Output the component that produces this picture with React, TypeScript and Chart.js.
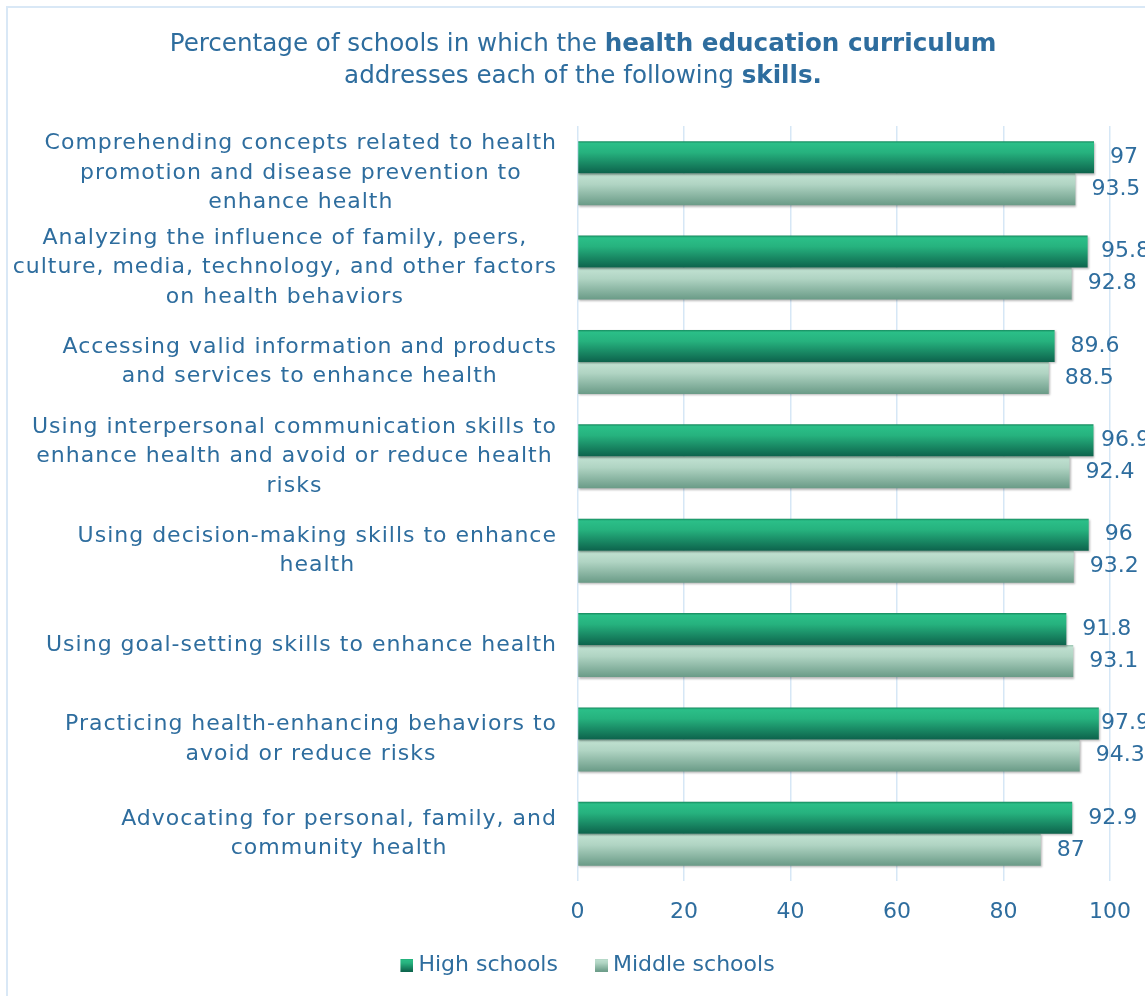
import React, { useEffect, useRef } from 'react';
import { Chart, registerables } from 'chart.js';

Chart.register(...registerables);

const categories: string[][] = [
  ['Comprehending concepts related to health', 'promotion and disease prevention to', 'enhance health'],
  ['Analyzing the influence of family, peers,', 'culture, media, technology, and other factors', 'on health behaviors'],
  ['Accessing valid information and products', 'and services to enhance health'],
  ['Using interpersonal communication skills to', 'enhance health and avoid or reduce health', 'risks'],
  ['Using decision-making skills to enhance', 'health'],
  ['Using goal-setting skills to enhance health'],
  ['Practicing health-enhancing behaviors to', 'avoid or reduce risks'],
  ['Advocating for personal, family, and', 'community health'],
];

const highSchools = [97, 95.8, 89.6, 96.9, 96, 91.8, 97.9, 92.9];
const middleSchools = [93.5, 92.8, 88.5, 92.4, 93.2, 93.1, 94.3, 87];
const seriesNames = ['High schools', 'Middle schools'];
const xTicks = [0, 20, 40, 60, 80, 100];

const titleLines: { text: string; bold: boolean }[][] = [
  [
    { text: 'Percentage of schools in which the ', bold: false },
    { text: 'health education curriculum', bold: true },
  ],
  [
    { text: 'addresses each of the following ', bold: false },
    { text: 'skills.', bold: true },
  ],
];

const FONT = "'DejaVu Sans', sans-serif";
const TEXT = '#2e6d9e';
const GRID = '#d6e7f6';
const CAT_PCT = 0.678;
const PAD_LEFT = 56;

const hsStops: [number, string][] = [
  [0, '#168a5e'],
  [0.07, '#2bbf88'],
  [0.35, '#26b27e'],
  [1, '#0d634c'],
];
const msStops: [number, string][] = [
  [0, '#9cc4b2'],
  [0.07, '#bfe0d0'],
  [0.35, '#b0d4c3'],
  [1, '#6a9b87'],
];

function grad(ctx: CanvasRenderingContext2D, top: number, bottom: number, stops: [number, string][]) {
  const g = ctx.createLinearGradient(0, top, 0, bottom);
  stops.forEach(([o, c]) => g.addColorStop(o, c));
  return g;
}

function barColor(stops: [number, string][], flat: string) {
  return (c: any) => {
    const chart = c.chart;
    const ys = chart.scales && chart.scales.y;
    if (c.type !== 'data' || !ys || typeof c.dataIndex !== 'number') return flat;
    const center = ys.getPixelForValue(c.dataIndex);
    const band = ys.height / categories.length;
    const half = (band * CAT_PCT) / 2;
    if (!isFinite(center) || !isFinite(half) || half <= 0) return flat;
    const top = c.datasetIndex === 0 ? center - half : center;
    return grad(chart.ctx, top, top + half, stops);
  };
}

// legend marker: 28px wide image, coloured 13x13 square on its right side
function legendBox(stops: [number, string][]) {
  const cv = document.createElement('canvas');
  cv.width = 28;
  cv.height = 13;
  const x = cv.getContext('2d')!;
  x.fillStyle = grad(x, 0, 13, stops);
  x.fillRect(15, 0, 13, 13);
  return cv;
}

const textPlugin = {
  id: 'customText',
  beforeDatasetsDraw(chart: any) {
    const ctx = chart.ctx;
    ctx.save();
    ctx.shadowColor = 'rgba(0,0,0,0.28)';
    ctx.shadowBlur = 2;
    ctx.shadowOffsetX = 1;
    ctx.shadowOffsetY = 1.5;
  },
  afterDatasetsDraw(chart: any) {
    chart.ctx.restore();
  },
  afterDraw(chart: any) {
    const ctx: any = chart.ctx;
    const area = chart.chartArea;
    ctx.save();
    ctx.fillStyle = TEXT;
    ctx.textBaseline = 'middle';

    // title
    const titleY = [45, 77];
    const titleCenter = 583;
    titleLines.forEach((line, li) => {
      let total = 0;
      const widths = line.map((seg) => {
        ctx.font = `${seg.bold ? 'bold ' : ''}24.6px ${FONT}`;
        const w = ctx.measureText(seg.text).width;
        total += w;
        return w;
      });
      let x = titleCenter - total / 2;
      ctx.textAlign = 'left';
      line.forEach((seg, i) => {
        ctx.font = `${seg.bold ? 'bold ' : ''}24.6px ${FONT}`;
        ctx.fillText(seg.text, x, titleY[li]);
        x += widths[i];
      });
    });

    // category labels (block right-aligned, lines centred within block)
    const ys = chart.scales.y;
    ctx.font = `22px ${FONT}`;
    ctx.letterSpacing = '1px';
    ctx.textAlign = 'left';
    const right = area.left - 21.5;
    const lh = 29.5;
    categories.forEach((lines, i) => {
      const cy = ys.getPixelForValue(i);
      const ws = lines.map((l) => ctx.measureText(l).width - 1);
      const widest = Math.max(...ws);
      const cx = right - widest / 2;
      lines.forEach((l, j) => {
        ctx.fillText(l, cx - ws[j] / 2, cy + (j - (lines.length - 1) / 2) * lh);
      });
    });
    ctx.letterSpacing = '0px';

    // value labels
    ctx.textAlign = 'left';
    chart.data.datasets.forEach((ds: any, di: number) => {
      const meta = chart.getDatasetMeta(di);
      meta.data.forEach((el: any, i: number) => {
        const t = String(ds.data[i]);
        const w = ctx.measureText(t).width;
        const x = Math.min(el.x + 16, 1150 - w);
        ctx.fillText(t, x, el.y);
      });
    });
    ctx.restore();
  },
};

export default function App() {
  const ref = useRef<HTMLCanvasElement>(null);

  useEffect(() => {
    if (!ref.current) return;
    const boxes = [legendBox(hsStops), legendBox(msStops)];
    const chart = new Chart(ref.current, {
      type: 'bar',
      data: {
        labels: categories.map((c) => c.join(' ')),
        datasets: [
          {
            label: seriesNames[0],
            data: highSchools,
            backgroundColor: barColor(hsStops, '#1c9a6c'),
            borderWidth: 0,
            categoryPercentage: CAT_PCT,
            barPercentage: 1,
          },
          {
            label: seriesNames[1],
            data: middleSchools,
            backgroundColor: barColor(msStops, '#94c2ad'),
            borderWidth: 0,
            categoryPercentage: CAT_PCT,
            barPercentage: 1,
          },
        ],
      },
      options: {
        indexAxis: 'y',
        responsive: false,
        animation: false,
        devicePixelRatio: 1,
        layout: { padding: { top: 126, left: PAD_LEFT, right: 35, bottom: 0 } },
        scales: {
          x: {
            min: 0,
            max: 100,
            afterBuildTicks: (s: any) => {
              s.ticks = xTicks.map((v) => ({ value: v }));
            },
            afterFit: (s: any) => {
              s.height = 45;
              s.paddingLeft = 0;
              s.paddingRight = 0;
            },
            grid: { color: GRID, lineWidth: 1.5, drawTicks: false },
            border: { display: false },
            ticks: { color: TEXT, font: { family: FONT, size: 22 }, padding: 18 },
          },
          y: {
            afterFit: (s: any) => {
              s.width = 577.5 - PAD_LEFT;
              s.paddingTop = 0;
              s.paddingBottom = 0;
            },
            grid: { display: false, drawTicks: false },
            border: { display: false },
            ticks: { display: false },
          },
        },
        plugins: {
          title: { display: false },
          tooltip: { enabled: false },
          legend: {
            position: 'bottom',
            labels: {
              color: TEXT,
              font: { family: FONT, size: 22 },
              usePointStyle: true,
              pointStyleWidth: 16,
              padding: 28,
              generateLabels: (ch: any) => {
                const items = Chart.defaults.plugins.legend.labels.generateLabels(ch);
                items.forEach((it: any, i: number) => {
                  it.pointStyle = boxes[i];
                });
                return items;
              },
            },
          },
        },
      },
      plugins: [textPlugin],
    } as any);
    return () => chart.destroy();
  }, []);

  return (
    <div style={{ position: 'fixed', left: 0, top: 0, width: 1145, height: 996, overflow: 'hidden', background: '#fff' }}>
      <div
        style={{
          position: 'absolute',
          left: 6,
          top: 6,
          width: 1300,
          height: 1100,
          border: '2px solid #d9e8f6',
        }}
      />
      <canvas ref={ref} width={1145} height={986} style={{ position: 'absolute', left: 0, top: 0, width: 1145, height: 986 }} />
    </div>
  );
}
